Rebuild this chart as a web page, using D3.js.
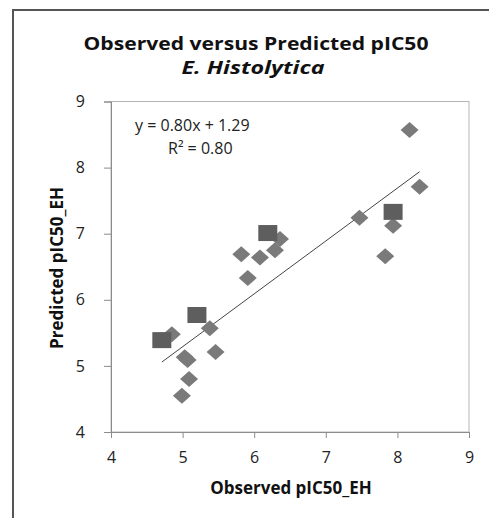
<!DOCTYPE html>
<html>
<head>
<meta charset="utf-8">
<script src="https://cdn.jsdelivr.net/npm/d3@7/dist/d3.min.js"></script>
<style>
  body { margin: 0; background: #fff; }
  text { font-family: "Open Sans", "Lato", sans-serif; }
</style>
</head>
<body>
<svg id="chart" width="489" height="518"></svg>
<script>
// observed vs predicted values
var diamondObs  = [4.85, 5.38, 5.46, 5.03, 5.07, 5.09, 4.99, 6.36, 6.29, 6.08, 5.82, 5.91, 8.17, 8.31, 7.47, 7.94, 7.83];
var diamondPred = [5.48, 5.57, 5.21, 5.13, 5.09, 4.80, 4.55, 6.92, 6.75, 6.64, 6.69, 6.33, 8.57, 7.71, 7.24, 7.12, 6.66];
var squareObs   = [4.71, 5.20, 6.19, 7.94];
var squarePred  = [5.39, 5.77, 7.01, 7.33];
var xTicks = [4, 5, 6, 7, 8, 9];
var yTicks = [4, 5, 6, 7, 8, 9];
var slope = 0.80, intercept = 1.29, rSquared = 0.80;

var svg = d3.select("#chart");

// outer chart frame (right / bottom are cut off in the picture)
svg.append("rect")
    .attr("x", 13).attr("y", 10)
    .attr("width", 500).attr("height", 540)
    .attr("fill", "none")
    .attr("stroke", "#555")
    .attr("stroke-width", 2);

var x = d3.scaleLinear().domain([4, 9]).range([111, 469]);
var y = d3.scaleLinear().domain([4, 9]).range([432, 101.5]);

// plot area border
svg.append("rect")
    .attr("x", x(4)).attr("y", y(9))
    .attr("width", x(9) - x(4)).attr("height", y(4) - y(9))
    .attr("fill", "none")
    .attr("stroke", "#b5b5b5")
    .attr("stroke-width", 1);

// axes
var xAxis = svg.append("g")
    .attr("transform", "translate(0," + y(4) + ")")
    .call(d3.axisBottom(x).tickValues(xTicks).tickSize(6).tickPadding(14).tickFormat(d3.format("d")));
var yAxis = svg.append("g")
    .attr("transform", "translate(" + x(4) + ",0)")
    .call(d3.axisLeft(y).tickValues(yTicks).tickSize(7).tickPadding(19).tickFormat(d3.format("d")));

[xAxis, yAxis].forEach(function (g) {
    g.select(".domain").attr("stroke", "#8c8c8c");
    g.selectAll(".tick line").attr("stroke", "#8c8c8c");
    g.selectAll(".tick text")
        .attr("fill", "#222")
        .style("font-size", "16px")
        .style("font-family", "'Open Sans', sans-serif");
});

// trend line over the observed range
var allObs = diamondObs.concat(squareObs);
var xMin = d3.min(allObs), xMax = d3.max(allObs);
svg.append("line")
    .attr("x1", x(xMin)).attr("y1", y(slope * xMin + intercept))
    .attr("x2", x(xMax)).attr("y2", y(slope * xMax + intercept))
    .attr("stroke", "#444")
    .attr("stroke-width", 1);

// diamond series
var diamonds = diamondObs.map(function (d, i) { return { x: d, y: diamondPred[i] }; });
svg.selectAll(".diamond")
    .data(diamonds).enter()
    .append("path")
    .attr("class", "diamond")
    .attr("d", "M0,-8L9,0L0,8L-9,0Z")
    .attr("transform", function (d) { return "translate(" + x(d.x) + "," + y(d.y) + ")"; })
    .attr("fill", "#7a7a7a");

// square series
var squares = squareObs.map(function (d, i) { return { x: d, y: squarePred[i] }; });
svg.selectAll(".square")
    .data(squares).enter()
    .append("rect")
    .attr("class", "square")
    .attr("x", function (d) { return x(d.x) - 9.5; })
    .attr("y", function (d) { return y(d.y) - 8; })
    .attr("width", 19).attr("height", 16)
    .attr("fill", "#5e5e5e");

// equation
svg.append("text")
    .attr("x", 135).attr("y", 131)
    .style("font-size", "16px")
    .attr("fill", "#222")
    .text("y = " + slope.toFixed(2) + "x + " + intercept.toFixed(2));
svg.append("text")
    .attr("x", 168).attr("y", 154)
    .style("font-size", "16px")
    .attr("fill", "#222")
    .text("R\u00B2 = " + rSquared.toFixed(2));

// titles
svg.append("text")
    .attr("x", 256).attr("y", 50)
    .attr("text-anchor", "middle")
    .attr("textLength", 345)
    .attr("lengthAdjust", "spacingAndGlyphs")
    .style("font-size", "17px")
    .style("font-weight", "bold")
    .attr("fill", "#111")
    .text("Observed versus Predicted pIC50");
svg.append("text")
    .attr("x", 253).attr("y", 74)
    .attr("text-anchor", "middle")
    .attr("textLength", 143)
    .attr("lengthAdjust", "spacingAndGlyphs")
    .style("font-size", "17px")
    .style("font-weight", "bold")
    .style("font-style", "italic")
    .attr("fill", "#111")
    .text("E. Histolytica");

// axis titles
svg.append("text")
    .attr("x", 291).attr("y", 494)
    .attr("text-anchor", "middle")
    .style("font-size", "17px")
    .style("font-weight", "bold")
    .attr("fill", "#111")
    .text("Observed pIC50_EH");
svg.append("text")
    .attr("transform", "translate(63,268) rotate(-90)")
    .attr("text-anchor", "middle")
    .style("font-size", "17px")
    .style("font-weight", "bold")
    .attr("fill", "#111")
    .text("Predicted pIC50_EH");
</script>
</body>
</html>
